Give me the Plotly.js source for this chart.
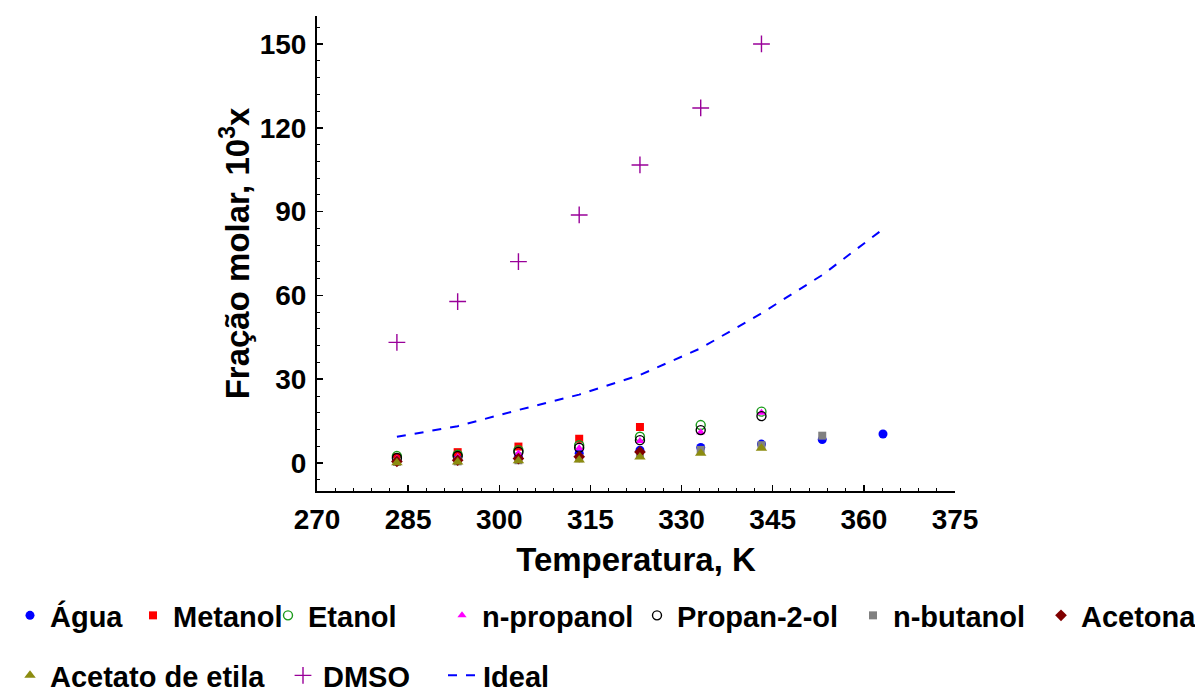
<!DOCTYPE html>
<html>
<head>
<meta charset="utf-8">
<script src="https://cdn.plot.ly/plotly-3.0.1.min.js"></script>
<style>html,body{margin:0;padding:0;background:#fff;}#chart{width:1195px;height:690px;}</style>
</head>
<body>
<div id="chart"></div>
<script>
// Temperatures (K)
var T = [283.15, 293.15, 303.15, 313.15, 323.15, 333.15, 343.15, 353.15, 363.15];

// Mole fraction, 10^3 x
var agua        = [1.0, 1.6, 2.4, 3.5, 4.6, 5.6, 6.8, 8.4, 10.4];
var metanol     = [2.1, 3.9, 5.9, 8.7, 12.9];
var etanol      = [2.5, 3.0, 4.6, 6.4, 9.4, 13.6, 18.4];
var npropanol   = [1.5, 2.2, 3.4, 5.3, 7.9, 11.0, 18.0];
var propan2ol   = [1.8, 2.5, 4.0, 5.5, 8.2, 11.8, 16.8];
var nbutanol    = [0.4, 0.6, 1.0, 1.7, 2.9, 4.7, 6.4, 9.8];
var acetona     = [0.6, 1.0, 1.6, 2.3, 4.0];
var acetato     = [0.1, 0.4, 0.8, 1.1, 2.2, 3.5, 5.3];
var dmso        = [43.2, 57.8, 72.1, 88.8, 106.7, 127.1, 150.0];
var ideal       = [9.4, 13.2, 19.0, 24.5, 31.5, 41.1, 53.6, 67.3, 83.7];

var F = "Liberation Sans, Arial, sans-serif";

function sc(name, y, symbol, color, size, legend, open) {
  var n = y.length;
  var m = {symbol: symbol, size: size, color: color};
  if (open) m.line = {color: color, width: 1.4};
  return {x: T.slice(0, n), y: y, name: name, type: 'scatter', mode: 'markers',
          marker: m, legend: legend};
}

var traces = [
  sc('Água', agua, 'circle', '#0000ff', 9, 'legend'),
  sc('Metanol', metanol, 'square', '#ff0000', 8, 'legend2'),
  sc('Etanol', etanol, 'circle-open', '#1a9a1a', 9, 'legend3', true),
  sc('n-propanol', npropanol, 'triangle-up', '#ff00ff', 8, 'legend4'),
  sc('Propan-2-ol', propan2ol, 'circle-open', '#000000', 9, 'legend5', true),
  sc('n-butanol', nbutanol, 'square', '#808080', 8, 'legend6'),
  sc('Acetona', acetona, 'diamond', '#800000', 9, 'legend7'),
  sc('Acetato de etila', acetato, 'triangle-up', '#8c8c10', 10, 'legend8'),
  sc('DMSO', dmso, 'cross-thin-open', '#990099', 12, 'legend9', true),
  {x: T, y: ideal, name: 'Ideal', type: 'scatter', mode: 'lines',
   line: {color: '#0000ff', width: 2, dash: 'dash'}, legend: 'legend10'}
];

var legFont = {family: F, size: 29, color: '#000', weight: 'bold'};
function leg(px, py) {
  return {orientation: 'h', xref: 'container', yref: 'container',
          x: px / 1195, xanchor: 'left', y: 1 - py / 690, yanchor: 'top',
          font: legFont, bgcolor: 'rgba(0,0,0,0)', borderwidth: 0};
}

var layout = {
  width: 1195, height: 690,
  margin: {l: 317, r: 240, t: 16, b: 199},
  paper_bgcolor: '#fff', plot_bgcolor: '#fff',
  showlegend: true,
  font: {family: F, color: '#000'},
  xaxis: {
    range: [270, 375], tickmode: 'linear', tick0: 270, dtick: 15,
    ticks: 'inside', ticklen: 6, tickwidth: 1.5, tickcolor: '#000',
    minor: {dtick: 3, ticks: 'inside', ticklen: 3, tickcolor: '#000', tickwidth: 1},
    showline: true, linecolor: '#000', linewidth: 2,
    showgrid: false, zeroline: false, automargin: false,
    tickfont: {family: F, size: 28, weight: 'bold', color: '#000'},
    ticklabelstandoff: 2,
    title: {text: 'Temperatura, K', font: {family: F, size: 33, weight: 'bold', color: '#000'}, standoff: 14}
  },
  yaxis: {
    range: [-10, 160], tickmode: 'linear', tick0: 0, dtick: 30,
    ticks: 'inside', ticklen: 6, tickwidth: 1.5, tickcolor: '#000',
    minor: {dtick: 6, ticks: 'inside', ticklen: 3, tickcolor: '#000', tickwidth: 1},
    showline: true, linecolor: '#000', linewidth: 2,
    showgrid: false, zeroline: false, automargin: false,
    tickfont: {family: F, size: 28, weight: 'bold', color: '#000'},
    ticklabelstandoff: 3,
    title: {text: 'Fração molar, 10<sup>3</sup>x', font: {family: F, size: 33, weight: 'bold', color: '#000'}, standoff: 0}
  },
  legend:   leg(10, 590),
  legend2:  leg(133, 590),
  legend3:  leg(268, 590),
  legend4:  leg(442, 590),
  legend5:  leg(637, 590),
  legend6:  leg(853, 590),
  legend7:  leg(1041, 590),
  legend8:  leg(10, 650),
  legend9:  leg(283, 650),
  legend10: leg(443, 650)
};

Plotly.newPlot('chart', traces, layout, {displayModeBar: false, staticPlot: true});
</script>
</body>
</html>
